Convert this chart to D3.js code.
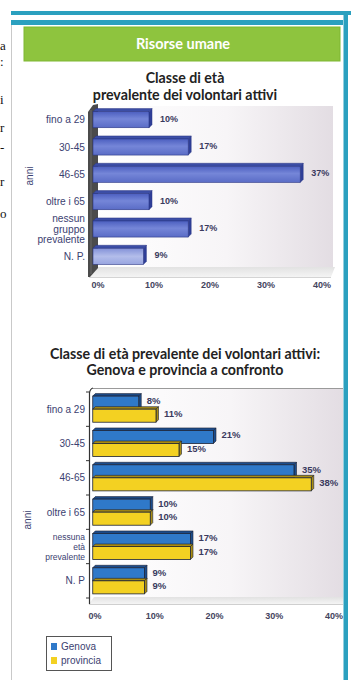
<!DOCTYPE html>
<html>
<head>
<meta charset="utf-8">
<script src="https://cdn.jsdelivr.net/npm/d3@7"></script>
<style>
  html, body { margin: 0; padding: 0; background: #fff; }
  svg { display: block; }
</style>
</head>
<body>
<svg id="page" width="351" height="680"></svg>
<script>
// ---- data ----
const categories1 = ["fino a 29", "30-45", "46-65", "oltre i 65", "nessun\ngruppo\nprevalente", "N. P."];
const values1 = [10, 17, 37, 10, 17, 9];

const categories2 = ["fino a 29", "30-45", "46-65", "oltre i 65", "nessuna\netà\nprevalente", "N. P"];
const genova = [8, 21, 35, 10, 17, 9];
const provincia = [11, 15, 38, 10, 17, 9];
const seriesNames = ["Genova", "provincia"];

const tickValues = [0, 10, 20, 30, 40];

// ---- page frame ----
const svg = d3.select("#page");
const defs = svg.append("defs");

const TEAL = "#2ba0bf";
const labelFont = "'Liberation Sans Narrow','Liberation Sans',Arial,sans-serif";
const titleFont = "Lato,'Open Sans',sans-serif";

// text of the neighbouring column at the page edge
const edgeGlyphs = [["a", 50], [":", 66], ["i", 104], ["r", 132], ["-", 152], ["r", 186], ["o", 218]];
svg.selectAll("text.edge").data(edgeGlyphs).join("text")
  .attr("class", "edge")
  .attr("x", 0).attr("y", d => d[1])
  .attr("font-family", "'Liberation Serif',serif").attr("font-size", 13)
  .attr("fill", "#111").text(d => d[0]);

svg.append("line").attr("x1", 11.5).attr("x2", 11.5).attr("y1", 24).attr("y2", 680)
  .attr("stroke", "#c9c9c9").attr("stroke-width", 1);
svg.append("rect").attr("x", 11).attr("y", 11).attr("width", 340).attr("height", 4).attr("fill", TEAL);
svg.append("rect").attr("x", 11).attr("y", 20).attr("width", 332).attr("height", 5).attr("fill", TEAL);
svg.append("rect").attr("x", 343.5).attr("y", 15).attr("width", 4.5).attr("height", 665).attr("fill", TEAL);

// header
svg.append("rect").attr("x", 24).attr("y", 27).attr("width", 316).attr("height", 34)
  .attr("fill", "#8ec43e").attr("stroke", "#7fb733").attr("stroke-width", 1);
svg.append("text").attr("x", 183).attr("y", 48.5).attr("text-anchor", "middle")
  .attr("font-family", titleFont).attr("font-weight", "bold").attr("font-size", 14.5)
  .attr("fill", "#fff").text("Risorse umane");

// gradients
function linGrad(id, stops, x2 = "100%", y2 = "0%") {
  const g = defs.append("linearGradient").attr("id", id)
    .attr("x1", "0%").attr("y1", "0%").attr("x2", x2).attr("y2", y2);
  stops.forEach(s => g.append("stop").attr("offset", s[0]).attr("stop-color", s[1]));
}
linGrad("wall", [["0%", "#ffffff"], ["55%", "#f7f5f7"], ["100%", "#e3dde3"]]);
linGrad("floor", [["0%", "#e2e2e2"], ["100%", "#f4f4f4"]], "0%", "100%");
linGrad("bar1", [["0%", "#4c5fc0"], ["45%", "#7586d8"], ["100%", "#5a6cc6"]], "0%", "100%");
linGrad("bar1np", [["0%", "#8391d8"], ["50%", "#b3bdea"], ["100%", "#98a5e0"]], "0%", "100%");

function titleLines(lines, y0, step) {
  svg.selectAll(null).data(lines).join("text")
    .attr("x", 185).attr("y", (d, i) => y0 + i * step)
    .attr("text-anchor", "middle")
    .attr("font-family", titleFont).attr("font-weight", "bold").attr("font-size", 14.2)
    .attr("fill", "#222").text(d => d);
}

// multi-line category labels, vertically centred on the given y
function wrapLabel(sel, x, lineH) {
  sel.each(function (d) {
    const t = d3.select(this);
    const lines = d.split("\n");
    const off = -(lines.length - 1) * lineH / 2;
    lines.forEach((w, i) => t.append("tspan").attr("x", x).attr("dy", i === 0 ? off : lineH).text(w));
  });
}

// ---- chart 1 ----
titleLines(["Classe di età", "prevalente dei volontari attivi"], 83, 17);

const x1 = d3.scaleLinear().domain([0, 40]).range([93, 317]);
const xAxis1 = d3.scaleLinear().domain([0, 40]).range([98, 322]);
const y1 = d3.scaleBand().domain(categories1).range([106, 270]).paddingInner(0.41).paddingOuter(0.205);

const g1 = svg.append("g");
g1.append("rect").attr("x", 97).attr("y", 106).attr("width", 236).attr("height", 162).attr("fill", "url(#wall)");
g1.append("polygon").attr("points", "89,277 97,267 335,267 331,277").attr("fill", "url(#floor)");
g1.append("line").attr("x1", 89).attr("x2", 331).attr("y1", 277.5).attr("y2", 277.5).attr("stroke", "#d4d4d4");
// side wall
g1.append("polygon").attr("points", "88,112 93,105 98,104 98,268 90,277 88,277")
  .attr("fill", "#4b4b4b");
g1.append("line").attr("x1", 91).attr("x2", 91).attr("y1", 110).attr("y2", 274).attr("stroke", "#6a6a6a").attr("stroke-width", 1);

const d1 = 3; // bar depth
const bars1 = g1.selectAll("g.bar").data(categories1.map((c, i) => ({ c, v: values1[i], i }))).join("g");
bars1.append("polygon")
  .attr("points", d => {
    const x0 = x1(0), xe = x1(d.v), y = y1(d.c);
    return `${x0},${y} ${x0 + d1},${y - d1} ${xe + d1},${y - d1} ${xe},${y}`;
  }).attr("fill", "#3c4ea6").attr("stroke", "#2b3785").attr("stroke-width", 0.5);
bars1.append("polygon")
  .attr("points", d => {
    const xe = x1(d.v), y = y1(d.c), h = y1.bandwidth();
    return `${xe},${y} ${xe + d1},${y - d1} ${xe + d1},${y + h - d1} ${xe},${y + h}`;
  }).attr("fill", "#2f3f98").attr("stroke", "#2b3785").attr("stroke-width", 0.5);
bars1.append("rect")
  .attr("x", x1(0)).attr("y", d => y1(d.c))
  .attr("width", d => x1(d.v) - x1(0)).attr("height", y1.bandwidth())
  .attr("fill", d => d.c === "N. P." ? "url(#bar1np)" : "url(#bar1)")
  .attr("stroke", "#2b3785").attr("stroke-width", 0.6);
bars1.append("text")
  .attr("x", d => x1(d.v) + 11).attr("y", d => y1(d.c) + y1.bandwidth() / 2 + 2)
  .attr("font-family", labelFont).attr("font-weight", "bold").attr("font-size", 9)
  .attr("fill", "#3a3a5e").text(d => d.v + "%");

g1.selectAll("text.cat").data(categories1).join("text")
  .attr("class", "cat")
  .attr("y", d => y1(d) + y1.bandwidth() / 2 + 3.5)
  .attr("text-anchor", "end")
  .attr("font-family", labelFont).attr("font-size", 10.2).attr("fill", "#3b4170")
  .call(wrapLabel, 85, 10.5);

g1.selectAll("text.tick").data(tickValues).join("text")
  .attr("class", "tick")
  .attr("x", d => xAxis1(d)).attr("y", 288).attr("text-anchor", "middle")
  .attr("font-family", labelFont).attr("font-weight", "bold").attr("font-size", 9)
  .attr("fill", "#44445e").text(d => d + "%");

g1.append("text").attr("transform", "translate(33,176) rotate(-90)")
  .attr("text-anchor", "middle").attr("font-family", labelFont).attr("font-size", 10)
  .attr("fill", "#3b4170").text("anni");

// ---- chart 2 ----
titleLines(["Classe di età prevalente dei volontari attivi:", "Genova e provincia a confronto"], 359, 16);

const x2 = d3.scaleLinear().domain([0, 40]).range([92.75, 322.75]);
const xAxis2 = d3.scaleLinear().domain([0, 40]).range([95, 334]);
const y2 = d3.scaleBand().domain(categories2).range([392, 598]).paddingInner(0.24).paddingOuter(0.12);
const ySub = d3.scaleBand().domain(seriesNames).range([0, y2.bandwidth()]);
const colors = { Genova: "#2f79c9", provincia: "#f3d122" };
const tops = { Genova: "#1c4d8c", provincia: "#a98c12" };

const g2 = svg.append("g");
g2.append("rect").attr("x", 93).attr("y", 388).attr("width", 250).attr("height", 209).attr("fill", "url(#wall)");
g2.append("line").attr("x1", 93).attr("x2", 343).attr("y1", 388.5).attr("y2", 388.5).attr("stroke", "#9a9a9a").attr("stroke-width", 1);
g2.append("polygon").attr("points", "89,604 94,597 343,597 343,604").attr("fill", "url(#floor)");
g2.append("line").attr("x1", 89).attr("x2", 343).attr("y1", 604.5).attr("y2", 604.5).attr("stroke", "#cfcfcf");
// value axis spine with category ticks
g2.append("path").attr("d", "M89.5,604 L89.5,393 Q90,389 93,388")
  .attr("fill", "none").attr("stroke", "#333").attr("stroke-width", 1.2);
const bounds = categories2.map(c => y2(c) - y2.step() * y2.paddingInner() / 2).concat([598]);
g2.selectAll("line.tk").data(bounds).join("line")
  .attr("class", "tk")
  .attr("x1", 86).attr("x2", 89.5).attr("y1", d => d).attr("y2", d => d)
  .attr("stroke", "#333").attr("stroke-width", 1);

const rows = [];
categories2.forEach((c, i) => {
  rows.push({ c, s: "Genova", v: genova[i] });
  rows.push({ c, s: "provincia", v: provincia[i] });
});
const d2 = 2.5;
const bars2 = g2.selectAll("g.bar2").data(rows).join("g");
bars2.append("polygon")
  .attr("points", d => {
    const x0 = x2(0), xe = x2(d.v), y = y2(d.c) + ySub(d.s);
    return `${x0},${y} ${x0 + d2},${y - d2} ${xe + d2},${y - d2} ${xe},${y}`;
  }).attr("fill", d => tops[d.s]).attr("stroke", "#1b2236").attr("stroke-width", 0.6);
bars2.append("polygon")
  .attr("points", d => {
    const xe = x2(d.v), y = y2(d.c) + ySub(d.s), h = ySub.bandwidth();
    return `${xe},${y} ${xe + d2},${y - d2} ${xe + d2},${y + h - d2} ${xe},${y + h}`;
  }).attr("fill", d => tops[d.s]).attr("stroke", "#1b2236").attr("stroke-width", 0.6);
bars2.append("rect")
  .attr("x", x2(0)).attr("y", d => y2(d.c) + ySub(d.s))
  .attr("width", d => x2(d.v) - x2(0)).attr("height", ySub.bandwidth())
  .attr("fill", d => colors[d.s]).attr("stroke", "#1b2236").attr("stroke-width", 0.8);
bars2.append("text")
  .attr("x", d => x2(d.v) + 8)
  .attr("y", d => y2(d.c) + ySub(d.s) + ySub.bandwidth() / 2 + 1.5)
  .attr("font-family", labelFont).attr("font-weight", "bold").attr("font-size", 9.5)
  .attr("fill", "#3a3a5e").text(d => d.v + "%");

g2.selectAll("text.cat").data(categories2).join("text")
  .attr("class", "cat")
  .attr("y", d => y2(d) + y2.bandwidth() / 2 + 3.5)
  .attr("text-anchor", "end")
  .attr("font-family", labelFont)
  .attr("font-size", d => d.includes("\n") ? 8.5 : 10)
  .attr("fill", "#3b4170")
  .call(wrapLabel, 85, 9.6);

g2.selectAll("text.tick").data(tickValues).join("text")
  .attr("class", "tick")
  .attr("x", d => xAxis2(d)).attr("y", 619).attr("text-anchor", "middle")
  .attr("font-family", labelFont).attr("font-weight", "bold").attr("font-size", 9)
  .attr("fill", "#44445e").text(d => d + "%");

g2.append("text").attr("transform", "translate(31,520) rotate(-90)")
  .attr("text-anchor", "middle").attr("font-family", labelFont).attr("font-size", 10)
  .attr("fill", "#3b4170").text("anni");

// legend
const lg = svg.append("g").attr("transform", "translate(46,636)");
lg.append("rect").attr("x", 0.5).attr("y", 0.5).attr("width", 65).attr("height", 34)
  .attr("fill", "#fff").attr("stroke", "#555").attr("stroke-width", 1);
const li = lg.selectAll("g").data(seriesNames).join("g")
  .attr("transform", (d, i) => `translate(5,${7 + i * 14})`);
li.append("rect").attr("width", 6).attr("height", 7).attr("fill", d => colors[d]);
li.append("text").attr("x", 10).attr("y", 7).attr("font-family", labelFont).attr("font-size", 10)
  .attr("fill", "#3b4170").text(d => d);
</script>
</body>
</html>
